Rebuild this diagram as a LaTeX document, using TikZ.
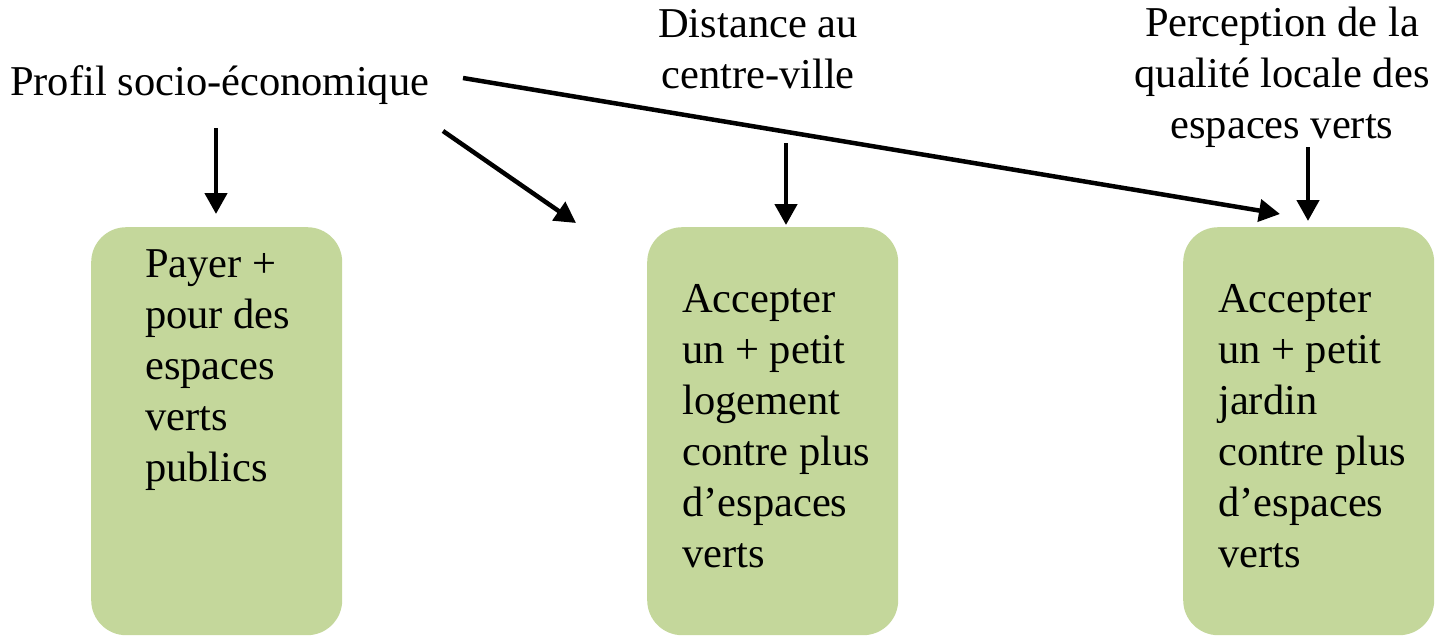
\documentclass[tikz,border=0pt]{standalone}
\usepackage{fontspec}
\setmainfont{Liberation Serif}
\usetikzlibrary{arrows.meta}
\begin{document}
\begin{tikzpicture}[x=1pt,y=-1pt,
  box/.style={fill=boxgreen,draw=none,rounded corners=35pt,minimum width=251pt,minimum height=408pt,inner sep=0pt},
  lbl/.style={inner sep=0pt,font=\fontsize{42.5}{51}\selectfont},
  arr/.style={line width=4.5pt,-{Triangle[length=21pt,width=22pt]}}]
\definecolor{boxgreen}{HTML}{C4D79B}
\useasboundingbox (0,0) rectangle (1441,637);
% boxes
\node[box,anchor=north west] (b1) at (91,227) {};
\node[box,anchor=north west] (b2) at (647,227) {};
\node[box,anchor=north west] (b3) at (1183,227) {};
% box texts
\node[lbl,align=left,anchor=north west] (t1) at (145,249) {Payer +\\pour des\\espaces\\verts\\publics};
\node[lbl,align=left,anchor=north west] (t2) at (682,284) {Accepter\\un + petit\\logement\\contre plus\\d’espaces\\verts};
\node[lbl,align=left,anchor=north west] (t3) at (1218,284) {Accepter\\un + petit\\jardin\\contre plus\\d’espaces\\verts};
% factor labels
\node[lbl,anchor=north west] (profil) at (10,65) {Profil socio-économique};
\node[lbl,align=center,anchor=north] (dist) at (758,9) {Distance au\\centre-ville};
\node[lbl,align=center,anchor=north] (perc) at (1282,7) {Perception de la\\qualité locale des\\espaces verts};
% arrow endpoints
\coordinate (a1s) at (216,128); \coordinate (a1e) at (216,214);
\coordinate (a2s) at (443,131); \coordinate (a2e) at (576,223);
\coordinate (a3s) at (786,143); \coordinate (a3e) at (786,225);
\coordinate (a4s) at (463,78);  \coordinate (a4e) at (1280,214);
\coordinate (a5s) at (1308,147); \coordinate (a5e) at (1308,221);
\draw[arr] (a1s) -- (a1e);
\draw[arr] (a2s) -- (a2e);
\draw[arr] (a3s) -- (a3e);
\draw[arr] (a4s) -- (a4e);
\draw[arr] (a5s) -- (a5e);
\end{tikzpicture}
\end{document}
